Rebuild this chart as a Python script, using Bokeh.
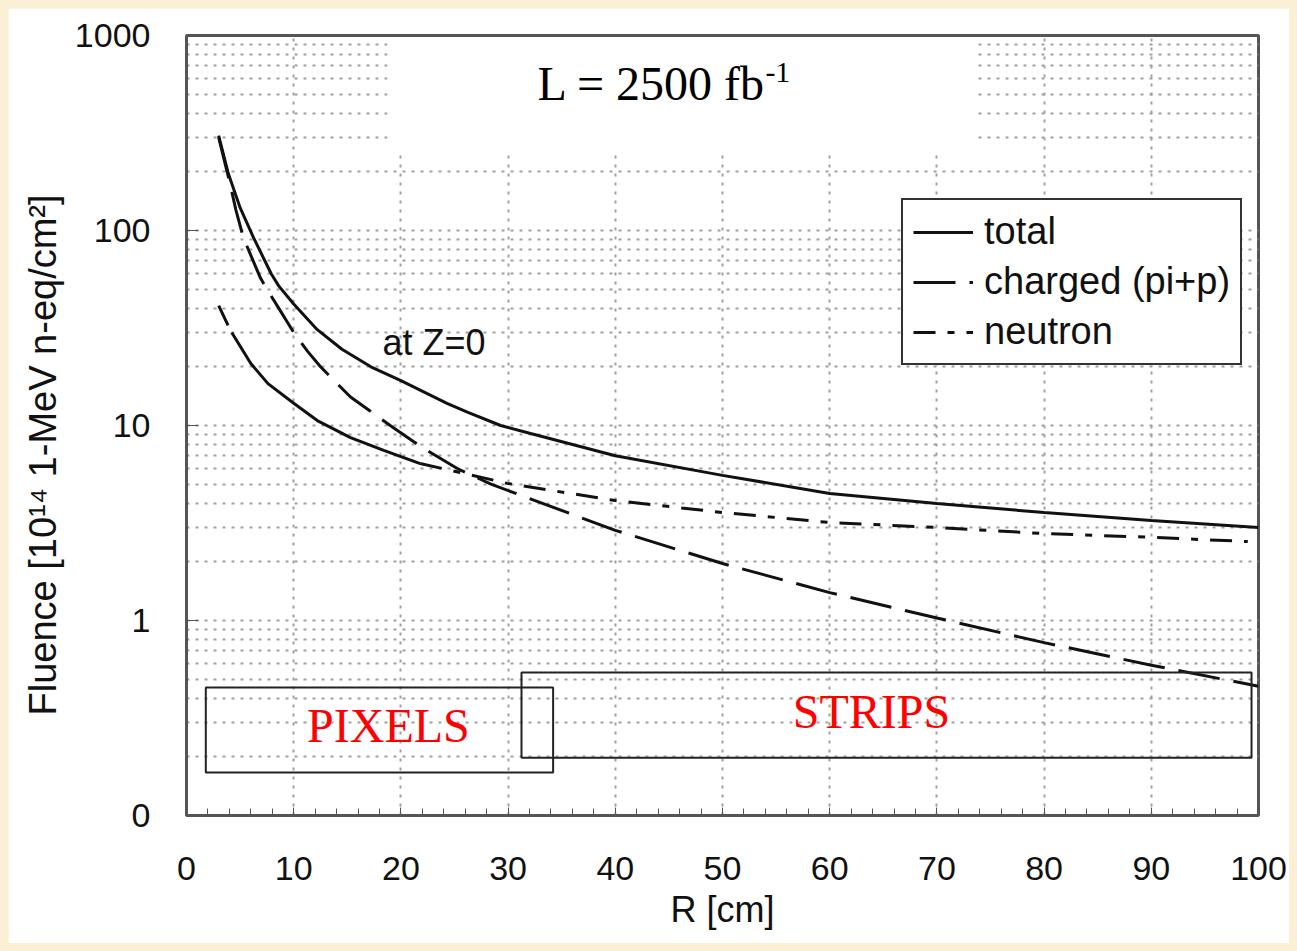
from bokeh.plotting import figure
from bokeh.models import (Range1d, FixedTicker, CustomJSTickFormatter, Title,
                          Legend, LegendItem, Label, BoxAnnotation)
from bokeh.embed import file_html
from bokeh.resources import INLINE

# ---------------- data ----------------
total_R = [3.0, 3.9, 5.0, 6.25, 7.9, 8.6, 10.0, 12.2, 14.5, 17.2, 20.0, 24.3, 26.2, 29.3, 32.1,
           40, 50, 60, 70, 80, 90, 100]
total_F = [307, 196, 131, 92, 60, 52, 42, 31, 24.6, 20, 17, 13.0, 11.7, 10.0, 9.1,
           7.0, 5.55, 4.48, 3.98, 3.58, 3.26, 3.0]

charged_R = [3.0, 4.1, 4.6, 5.3, 6.9, 7.5, 8.6, 10.0, 11.3, 12.5, 15.3, 19.0, 22.0, 25.3, 28.4,
             40, 50, 60, 70, 80, 90, 100]
charged_F = [300, 170, 128, 92, 57, 50, 40, 30, 24, 20, 14, 10, 7.7, 6.0, 5.0,
             2.9, 1.96, 1.39, 1.03, 0.77, 0.59, 0.46]

neutron_R = [3.0, 4.1, 6.0, 7.6, 10.0, 12.2, 15.3, 18.4, 21.8, 25.8, 29.9, 40, 50, 60, 70, 80, 90, 99]
neutron_F = [41.2, 30.7, 20.8, 16.4, 13.0, 10.6, 8.67, 7.45, 6.38, 5.7, 5.05, 4.12, 3.58, 3.18,
             3.0, 2.79, 2.67, 2.54]

series_labels = ["total", "charged (pi+p)", "neutron"]
x_ticks = [0, 10, 20, 30, 40, 50, 60, 70, 80, 90, 100]
y_ticks = [0.1, 1, 10, 100, 1000]
y_minor = [k * 10.0 ** e for e in range(-1, 3) for k in range(2, 10)]

SANS = "Liberation Sans"
SERIF = "Liberation Serif"
INK = "#111111"
GRID = "#a0a0a0"
SPLIT = 9  # neutron: near-solid steep part, then dash-dot

p = figure(width=1281, height=935,
           x_range=Range1d(0, 100), y_range=Range1d(0.1, 1000),
           y_axis_type="log", output_backend="svg", toolbar_location=None,
           min_border_left=178, min_border_right=31, min_border_top=27, min_border_bottom=128,
           background_fill_color="white", border_fill_color="white")

p.outline_line_color = "#555555"
p.outline_line_width = 3

# axes
p.xaxis.ticker = FixedTicker(ticks=x_ticks, minor_ticks=list(range(0, 101, 2)))
p.yaxis.ticker = FixedTicker(ticks=y_ticks, minor_ticks=y_minor)
p.yaxis.formatter = CustomJSTickFormatter(code="return tick < 0.5 ? '0' : String(Math.round(tick));")

for ax in (p.xaxis[0], p.yaxis[0]):
    ax.axis_line_color = "#555555"
    ax.axis_line_width = 3
    ax.major_tick_line_color = "#555555"
    ax.major_tick_out = 0
    ax.minor_tick_out = 0
    ax.major_label_text_font = SANS
    ax.major_label_text_font_size = "34px"
    ax.major_label_text_color = INK

p.yaxis.major_label_standoff = 36
p.xaxis.major_label_standoff = 41
p.xaxis.major_tick_in = 8
p.xaxis.minor_tick_in = 7
p.xaxis.minor_tick_line_color = "#555555"
p.yaxis.major_tick_in = 12
p.yaxis.minor_tick_line_color = None

p.xaxis.axis_label = "R [cm]"
p.xaxis.axis_label_text_font = SANS
p.xaxis.axis_label_text_font_size = "36px"
p.xaxis.axis_label_text_font_style = "normal"
p.xaxis.axis_label_text_color = INK
p.xaxis.axis_label_standoff = 6

# y-axis title, starting 100 px above the frame bottom as in the reference
p.add_layout(Title(text="Fluence [10\u00b9\u2074 1-MeV n-eq/cm\u00b2]", align="left", offset=100,
                   standoff=15, text_font=SANS, text_font_size="38px", text_font_style="normal",
                   text_color=INK), "left")

# grids (dotted)
for g in (p.xgrid[0], p.ygrid[0]):
    g.grid_line_color = GRID
    g.grid_line_dash = "3 6"
    g.grid_line_width = 2
p.ygrid.minor_grid_line_color = GRID
p.ygrid.minor_grid_line_dash = "3 6"
p.ygrid.minor_grid_line_width = 2

# white background behind the luminosity title
p.add_layout(BoxAnnotation(left=18.75, right=73.6, bottom=250, top=975,
                           fill_color="white", fill_alpha=1.0, line_color=None, level="underlay"))

# curves
r_total = p.line(total_R, total_F, line_color=INK, line_width=3)
r_charged = p.line(charged_R, charged_F, line_color=INK, line_width=3, line_dash="42 14")
r_n1 = p.line(neutron_R[:SPLIT], neutron_F[:SPLIT], line_color=INK, line_width=3, line_dash="22 8 1000")
r_n2 = p.line(neutron_R[SPLIT - 1:], neutron_F[SPLIT - 1:], line_color=INK, line_width=3,
              line_dash="22 12 7 12")

legend = Legend(items=[LegendItem(label=series_labels[0], renderers=[r_total]),
                       LegendItem(label=series_labels[1], renderers=[r_charged]),
                       LegendItem(label=series_labels[2], renderers=[r_n2])],
                location=(715, 450), margin=0, padding=10, spacing=7,
                glyph_width=60, glyph_height=40, label_height=40, label_standoff=11,
                label_text_font=SANS, label_text_font_size="38px", label_text_color=INK,
                border_line_color="#333333", border_line_width=2, border_line_alpha=1.0,
                background_fill_color="white", background_fill_alpha=1.0)
p.add_layout(legend)

# region boxes
p.add_layout(BoxAnnotation(left=1.8, right=34.2, bottom=0.166, top=0.453,
                           fill_color=None, line_color="#222222", line_alpha=1.0, line_width=2))
p.add_layout(BoxAnnotation(left=31.25, right=99.35, bottom=0.198, top=0.541,
                           fill_color=None, line_color="#222222", line_alpha=1.0, line_width=2))

# texts
p.add_layout(Label(x=32.74, y=567, text="L = 2500 fb", text_font=SERIF, text_font_size="48px",
                   text_color="black", text_align="left", text_baseline="alphabetic"))
p.add_layout(Label(x=54.0, y=646, text="-1", text_font=SERIF, text_font_size="30px",
                   text_color="black", text_align="left", text_baseline="alphabetic"))
p.add_layout(Label(x=18.28, y=26.7, text="at Z=0", text_font=SANS, text_font_size="36px",
                   text_color=INK, text_align="left", text_baseline="alphabetic"))
p.add_layout(Label(x=18.84, y=0.2897, text="PIXELS", text_font=SERIF, text_font_size="48px",
                   text_color="#ff0000", text_align="center", text_baseline="alphabetic"))
p.add_layout(Label(x=63.9, y=0.341, text="STRIPS", text_font=SERIF, text_font_size="48px",
                   text_color="#ff0000", text_align="center", text_baseline="alphabetic"))

html = file_html(p, INLINE)
html = html.replace("</head>",
                    "<style>html,body{background:#FBEFD6;} body{padding:8px !important;}</style></head>", 1)
open("out.html", "w").write(html)
